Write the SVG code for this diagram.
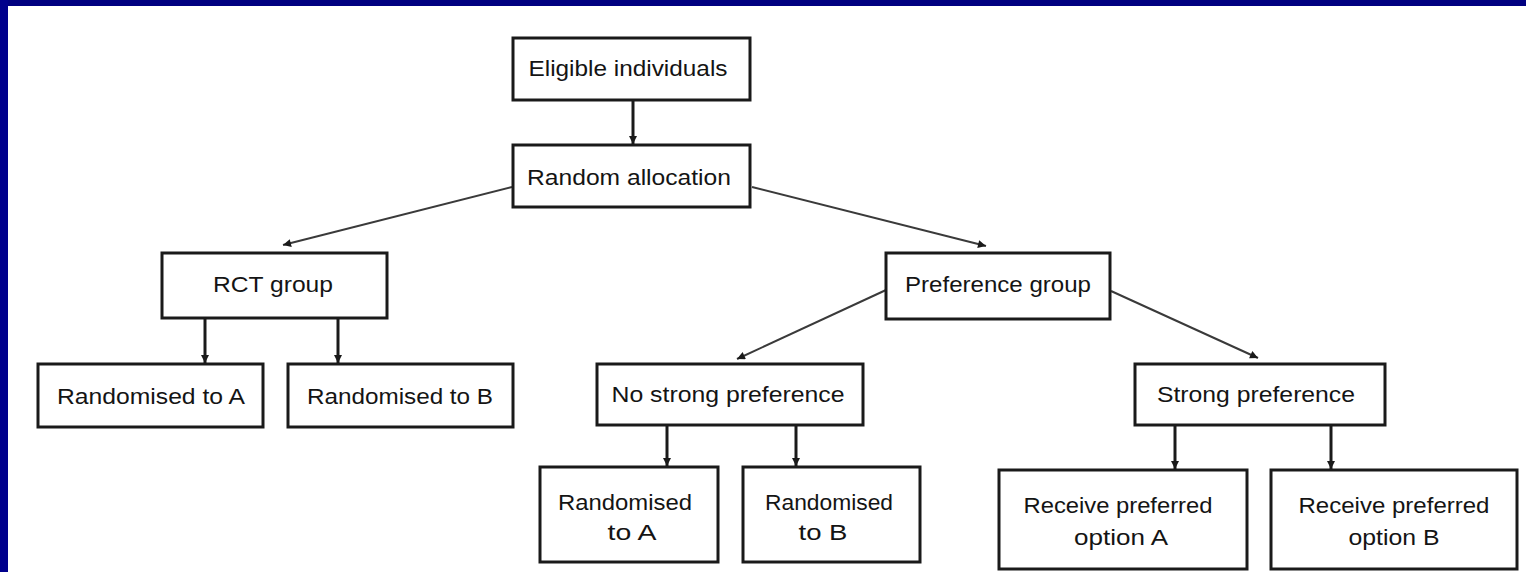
<svg xmlns="http://www.w3.org/2000/svg" width="1526" height="572" viewBox="0 0 1526 572">
  <style>
    .box { fill: #ffffff; stroke: #1a1a1a; stroke-width: 3; }
    .lbl { font-family: "Liberation Sans", Arial, sans-serif; font-size: 22px; fill: #141414; text-anchor: middle; }
    .down { stroke: #1a1a1a; stroke-width: 3; fill: none; }
    .diag { stroke: #3a3a3a; stroke-width: 2; fill: none; }
  </style>
  <defs>
    <marker id="head" viewBox="0 0 10 10" refX="10" refY="5" markerWidth="9" markerHeight="8" markerUnits="userSpaceOnUse" orient="auto">
      <path d="M0,0 L10,5 L0,10 z" fill="#1a1a1a"/>
    </marker>
  </defs>

  <!-- page frame -->
  <rect x="0" y="0" width="1526" height="572" fill="#ffffff"/>
  <rect x="0" y="0" width="1526" height="6" fill="#000080"/>
  <rect x="0" y="0" width="8" height="572" fill="#00008c"/>

  <!-- connectors -->
  <g id="connectors">
    <line class="down" x1="633" y1="100" x2="633" y2="144" marker-end="url(#head)"/>
    <line class="diag" x1="512" y1="187" x2="283" y2="245" marker-end="url(#head)"/>
    <line class="diag" x1="752" y1="187" x2="986" y2="246" marker-end="url(#head)"/>
    <line class="down" x1="205" y1="318" x2="205" y2="363" marker-end="url(#head)"/>
    <line class="down" x1="338" y1="318" x2="338" y2="363" marker-end="url(#head)"/>
    <line class="diag" x1="886" y1="290" x2="737" y2="359" marker-end="url(#head)"/>
    <line class="diag" x1="1111" y1="291" x2="1258" y2="358" marker-end="url(#head)"/>
    <line class="down" x1="667" y1="425" x2="667" y2="466" marker-end="url(#head)"/>
    <line class="down" x1="796" y1="425" x2="796" y2="466" marker-end="url(#head)"/>
    <line class="down" x1="1175" y1="425" x2="1175" y2="469" marker-end="url(#head)"/>
    <line class="down" x1="1331" y1="425" x2="1331" y2="469" marker-end="url(#head)"/>
  </g>

  <!-- nodes -->
  <g id="eligible">
    <rect class="box" x="513" y="38" width="237" height="62"/>
    <text class="lbl" x="628" y="76" textLength="199" lengthAdjust="spacingAndGlyphs">Eligible individuals</text>
  </g>
  <g id="random-allocation">
    <rect class="box" x="513" y="145" width="237" height="62"/>
    <text class="lbl" x="629" y="185" textLength="204" lengthAdjust="spacingAndGlyphs">Random allocation</text>
  </g>
  <g id="rct-group">
    <rect class="box" x="162" y="253" width="225" height="65"/>
    <text class="lbl" x="273" y="292" textLength="120" lengthAdjust="spacingAndGlyphs">RCT group</text>
  </g>
  <g id="preference-group">
    <rect class="box" x="886" y="253" width="224" height="66"/>
    <text class="lbl" x="998" y="292" textLength="186" lengthAdjust="spacingAndGlyphs">Preference group</text>
  </g>
  <g id="rct-randomised-a">
    <rect class="box" x="38" y="364" width="225" height="63"/>
    <text class="lbl" x="151" y="404" textLength="188" lengthAdjust="spacingAndGlyphs">Randomised to A</text>
  </g>
  <g id="rct-randomised-b">
    <rect class="box" x="288" y="364" width="225" height="63"/>
    <text class="lbl" x="400" y="404" textLength="186" lengthAdjust="spacingAndGlyphs">Randomised to B</text>
  </g>
  <g id="no-strong-preference">
    <rect class="box" x="597" y="364" width="266" height="61"/>
    <text class="lbl" x="728" y="402" textLength="233" lengthAdjust="spacingAndGlyphs">No strong preference</text>
  </g>
  <g id="strong-preference">
    <rect class="box" x="1135" y="364" width="250" height="61"/>
    <text class="lbl" x="1256" y="402" textLength="198" lengthAdjust="spacingAndGlyphs">Strong preference</text>
  </g>
  <g id="pref-randomised-a">
    <rect class="box" x="540" y="467" width="178" height="95"/>
    <text class="lbl" x="625" y="510" textLength="134" lengthAdjust="spacingAndGlyphs">Randomised</text>
    <text class="lbl" x="632" y="540" textLength="49" lengthAdjust="spacingAndGlyphs">to A</text>
  </g>
  <g id="pref-randomised-b">
    <rect class="box" x="743" y="467" width="177" height="95"/>
    <text class="lbl" x="829" y="510" textLength="128" lengthAdjust="spacingAndGlyphs">Randomised</text>
    <text class="lbl" x="823" y="540" textLength="49" lengthAdjust="spacingAndGlyphs">to B</text>
  </g>
  <g id="receive-option-a">
    <rect class="box" x="999" y="470" width="248" height="99"/>
    <text class="lbl" x="1118" y="513" textLength="189" lengthAdjust="spacingAndGlyphs">Receive preferred</text>
    <text class="lbl" x="1121" y="545" textLength="94" lengthAdjust="spacingAndGlyphs">option A</text>
  </g>
  <g id="receive-option-b">
    <rect class="box" x="1271" y="470" width="246" height="99"/>
    <text class="lbl" x="1394" y="513" textLength="191" lengthAdjust="spacingAndGlyphs">Receive preferred</text>
    <text class="lbl" x="1394" y="545" textLength="91" lengthAdjust="spacingAndGlyphs">option B</text>
  </g>
</svg>
